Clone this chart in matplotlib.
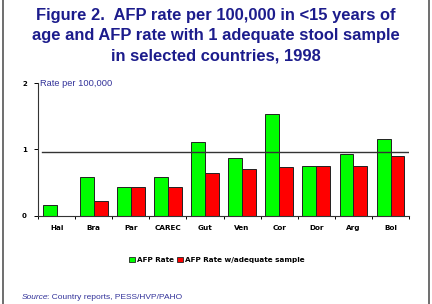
import numpy as np
import matplotlib
matplotlib.use("Agg")
import matplotlib.pyplot as plt
from matplotlib.lines import Line2D
from matplotlib.patches import Patch

plt.rcParams['font.family'] = ['Liberation Sans', 'DejaVu Sans']

# data
countries = ["Hai", "Bra", "Par", "CAREC", "Gut", "Ven", "Cor", "Dor", "Arg", "Bol"]
afp_rate = [0.16, 0.59, 0.43, 0.59, 1.11, 0.87, 1.53, 0.75, 0.93, 1.16]
afp_adequate = [0.0, 0.22, 0.43, 0.44, 0.65, 0.71, 0.73, 0.75, 0.75, 0.90]
target = 0.96
yticks = [0, 1, 2]

navy = "#1c1c8c"
blue = "#33339a"
small = ["DejaVu Sans"]  # wider letters, closer to the spaced-out labels

fig = plt.figure(figsize=(4.32, 3.04), dpi=100)
ax = fig.add_axes([0.088, 0.2905, 0.859, 0.4355])

x = np.arange(len(countries))
w = 0.375
ax.bar(x - w / 2, afp_rate, w, color="#00ff00", edgecolor="#222222", linewidth=0.7)
ax.bar(x + w / 2, afp_adequate, w, color="#ff0000", edgecolor="#222222", linewidth=0.7)
ax.axhline(target, xmin=0.011, xmax=1.0, color="#333333", linewidth=1.0)

ax.set_xlim(-0.5, len(countries) - 0.5)
ax.set_ylim(0, 2)
ax.set_yticks(yticks)
ax.set_yticklabels([str(t) for t in yticks], fontsize=5, fontweight="bold",
                   family=small)
ax.set_xticks(np.arange(len(countries) + 1) - 0.5)
ax.set_xticklabels([])
ax.set_xticks(x, minor=True)
ax.set_xticklabels(countries, minor=True, fontsize=5.2, fontweight="bold",
                   family=small)
ax.tick_params(axis="x", which="minor", length=0, pad=7)
ax.tick_params(axis="x", which="major", length=2.5, width=0.7, direction="out")
ax.tick_params(axis="y", length=3, width=0.7, pad=5)
for s in ["top", "right"]:
    ax.spines[s].set_visible(False)
for s in ["left", "bottom"]:
    ax.spines[s].set_linewidth(0.8)
    ax.spines[s].set_color("#333333")

ax.text(0.005, 1.0, "Rate per 100,000", transform=ax.transAxes, fontsize=6.7,
        color=blue, ha="left", va="center")

title_lines = ["Figure 2.  AFP rate per 100,000 in <15 years of",
               "age and AFP rate with 1 adequate stool sample",
               "in selected countries, 1998"]
for i, line in enumerate(title_lines):
    fig.text(0.5, 0.949 - 0.066 * i, line, ha="center", va="center",
             fontsize=11.9, fontweight="bold", color=navy)

handles = [Patch(facecolor="#00ff00", edgecolor="#222222", linewidth=0.6),
           Patch(facecolor="#ff0000", edgecolor="#222222", linewidth=0.6)]
fig.legend(handles, ["AFP Rate", "AFP Rate w/adequate sample"], loc="center",
           bbox_to_anchor=(0.502, 0.145), ncol=2, frameon=False,
           prop={"size": 5.2, "weight": "bold", "family": small},
           handlelength=0.8, handleheight=0.8,
           handletextpad=0.3, columnspacing=0.5)

fig.text(0.05, 0.02, "Source", style="italic", fontsize=6.0, color=blue, ha="left",
         va="center")
fig.text(0.05 + 0.059, 0.02, ": Country reports, PESS/HVP/PAHO", fontsize=6.0,
         color=blue, ha="left", va="center")

for xf in [0.006, 0.992]:
    fig.add_artist(Line2D([xf, xf], [0, 1], transform=fig.transFigure,
                          color="#555555", linewidth=1.2))

fig.savefig("out.png", dpi=100)
